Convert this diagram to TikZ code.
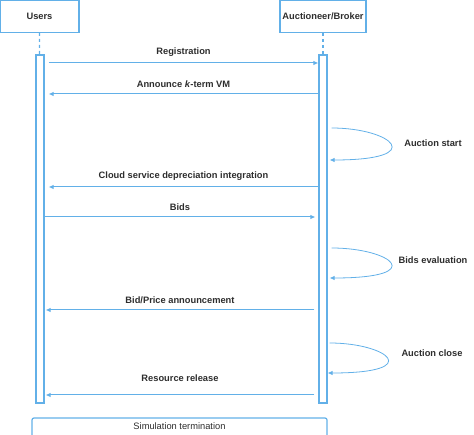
\documentclass[tikz,border=0pt]{standalone}
\usepackage{fontspec}
\setmainfont{Liberation Sans}
\usetikzlibrary{arrows.meta,positioning}
\definecolor{seqblue}{RGB}{98,176,232}
\definecolor{seqtext}{RGB}{45,45,45}

\begin{document}
\begin{tikzpicture}[x=1pt, y=-1pt,
	actor/.style={draw=seqblue, line width=1.2pt, minimum height=32pt, inner sep=0pt,
		font=\fontsize{9.3}{11}\selectfont\bfseries, text=seqtext},
	bar/.style={draw=seqblue, line width=1.2pt, minimum width=8pt, minimum height=348pt, inner sep=0pt},
	life/.style={seqblue, line width=1.2pt, dashed},
	msg/.style={seqblue, line width=1pt, -{Latex[length=5pt,width=4.5pt]}},
	self/.style={seqblue, line width=0.8pt, -{Latex[length=5pt,width=4.5pt]}},
	lbl/.style={font=\fontsize{9.3}{11}\selectfont\bfseries, text=seqtext, inner sep=1pt}]

	\useasboundingbox (0,0) rectangle (474,435);

	% actors and their bars
	\node[actor, minimum width=79pt] (users) at (39.5,16.25) {Users};
	\node[actor, minimum width=86pt] (broker) at (323,16.25) {Auctioneer/Broker};
	\node[bar] (usersbar) at (40,229) {};
	\node[bar] (brokerbar) at (323,229) {};
	\draw[life] (users) -- (usersbar);
	\draw[life] (broker) -- (brokerbar);

	% heights of the messages
	\foreach \n/\y in {reg/63, ann/94, dep/187, bid/217, pri/310, rel/395,
		as1/128, as2/160, be1/248, be2/278, ac1/343, ac2/373}
		\coordinate (\n) at (0,\y);

	\draw[msg] ([xshift=4pt]usersbar.east |- reg) -- (brokerbar.west |- reg)
		node[lbl, midway, above=5pt] {Registration};
	\draw[msg] (brokerbar.west |- ann) -- ([xshift=4pt]usersbar.east |- ann)
		node[lbl, midway, above=5pt] {Announce \textit{k}-term VM};
	\draw[msg] (brokerbar.west |- dep) -- ([xshift=4pt]usersbar.east |- dep)
		node[lbl, midway, above=5pt] {Cloud service depreciation integration};
	\draw[msg] (usersbar.east |- bid) -- ([xshift=-3pt]brokerbar.west |- bid)
		node[lbl, midway, above=5pt] {Bids};
	\draw[msg] ([xshift=-4pt]brokerbar.west |- pri) -- ([xshift=1pt]usersbar.east |- pri)
		node[lbl, midway, above=5pt] {Bid/Price announcement};
	\draw[msg] ([xshift=-4pt]brokerbar.west |- rel) -- ([xshift=1pt]usersbar.east |- rel)
		node[lbl, midway, above=12pt] {Resource release};

	% self calls of the broker
	\draw[self] ([xshift=4pt]brokerbar.east |- as1) .. controls +(60,0) and +(100,0) .. ([xshift=2pt]brokerbar.east |- as2);
	\draw[self] ([xshift=4pt]brokerbar.east |- be1) .. controls +(60,0) and +(100,0) .. ([xshift=2pt]brokerbar.east |- be2);
	\draw[self] ([xshift=2pt]brokerbar.east |- ac1) .. controls +(58,0) and +(98,0) .. ([xshift=0pt]brokerbar.east |- ac2);
	\node[lbl] (start) at (433,143) {Auction start};
	\node[lbl] (evaluation) at (433,260) {Bids evaluation};
	\node[lbl] (close) at (432,353) {Auction close};

	\node[draw=seqblue, line width=1.2pt, rounded corners=2pt, minimum width=295pt, minimum height=22pt] (termination) at (179.5,429) {};
	\node[text=seqtext, font=\fontsize{9.3}{11}\selectfont, inner sep=0pt] (termtext) at (179.5,426) {Simulation termination};

\end{tikzpicture}
\end{document}
